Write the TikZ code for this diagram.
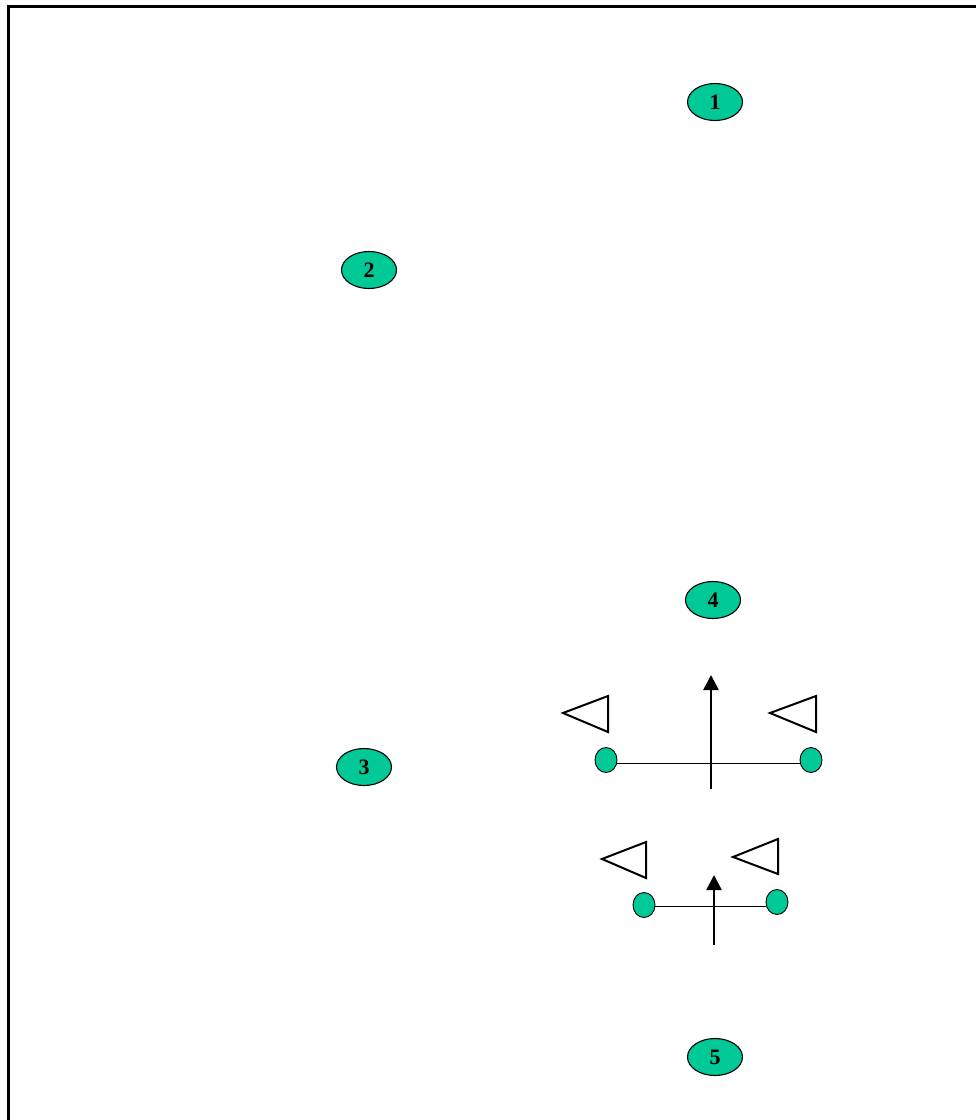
\documentclass[tikz,border=0pt]{standalone}
\usepackage{fontspec}
\setmainfont{Liberation Serif}
\usetikzlibrary{shapes.geometric,arrows.meta}
\definecolor{tealgreen}{RGB}{0,200,150}
\tikzset{
  numnode/.style={ellipse,draw=black,line width=1.1pt,fill=tealgreen,minimum width=55pt,minimum height=37pt,inner sep=0pt,font=\fontsize{22}{22}\selectfont\bfseries},
  dot/.style={ellipse,draw=black,line width=0.9pt,fill=tealgreen,minimum width=22pt,minimum height=25pt,inner sep=0pt},
  tri/.style={draw=black,line width=2pt},
  stem/.style={line width=2.4pt,-{Triangle[length=15pt,width=15pt]}},
  bar/.style={line width=1pt}
}
\begin{document}
\begin{tikzpicture}[x=1pt,y=-1pt]
\useasboundingbox (0,0) rectangle (976,1120);
\begin{scope}
\clip (0,0) rectangle (976,1120);
\draw[line width=3pt] (8,6) rectangle (1000,1140);
\end{scope}
\node[numnode] (n1) at (715,102) {1};
\node[numnode] (n2) at (369,270) {2};
\node[numnode] (n3) at (364,767) {3};
\node[numnode] (n4) at (713,600) {4};
\node[numnode] (n5) at (715,1057) {5};
% large group
\draw[tri] (563,713) -- (608,696) -- (608,732) -- cycle;
\draw[tri] (770,713) -- (816,696) -- (816,732) -- cycle;
\node[dot] (dl) at (606,760) {};
\node[dot] (dr) at (811,760) {};
\draw[bar] (dl.east |- 0,763) -- (dr.west |- 0,763);
\coordinate (a1s) at (711,789);
\coordinate (a1e) at (711,675);
\draw[stem] (a1s) -- (a1e);
% small group
\draw[tri] (602,859) -- (646,842) -- (646,878) -- cycle;
\draw[tri] (733,857) -- (778,839) -- (778,874) -- cycle;
\node[dot] (sl) at (644,905) {};
\node[dot] (sr) at (777,902) {};
\draw[bar] (sl.east |- 0,906) -- (sr.west |- 0,906);
\coordinate (a2s) at (714,945);
\coordinate (a2e) at (714,875);
\draw[stem] (a2s) -- (a2e);
\end{tikzpicture}
\end{document}
